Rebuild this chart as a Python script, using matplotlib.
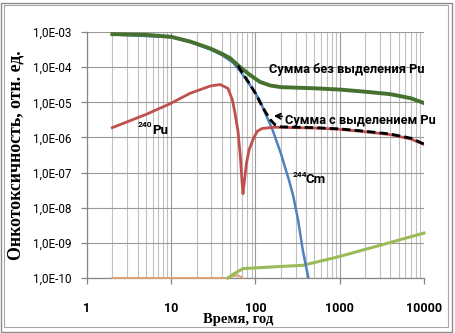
import matplotlib
matplotlib.use('Agg')
import matplotlib.pyplot as plt
import numpy as np
from matplotlib.patches import Rectangle
from matplotlib.ticker import FixedLocator, LogLocator, FuncFormatter, NullFormatter

# %%
# data (time in years, relative oncotoxicity)
t_sum_nopu = [2, 5, 10, 17, 29, 40, 50, 65, 86, 113, 150, 200, 500, 1000, 2000, 4000, 7000, 10000]
v_sum_nopu = [8.7e-4, 8.3e-4, 7.3e-4, 5.3e-4, 3.4e-4, 2.4e-4, 1.8e-4, 1.02e-4, 6.0e-5, 3.8e-5,
              3.0e-5, 2.7e-5, 2.5e-5, 2.3e-5, 2.0e-5, 1.7e-5, 1.3e-5, 9.5e-6]

t_cm244 = [2, 10, 17, 29, 40, 54, 65, 80, 100, 113, 130, 160, 200, 250, 280, 320, 365, 400, 425]
v_cm244 = [8.5e-4, 7.1e-4, 5.1e-4, 3.2e-4, 2.2e-4, 1.35e-4, 8.0e-5, 4.0e-5, 1.8e-5, 1.1e-5,
           5.0e-6, 1.6e-6, 3.5e-7, 6.0e-8, 2.2e-8, 4.5e-9, 6.0e-10, 2.0e-10, 1.0e-10]

t_pu240 = [2, 5, 9.6, 16.7, 29, 38, 47, 53, 57, 62, 66, 69, 71, 74, 78, 84, 94, 105, 120, 170,
           500, 1000, 2000, 4000, 7000, 10000]
v_pu240 = [1.9e-6, 4.5e-6, 9.0e-6, 1.8e-5, 2.9e-5, 3.2e-5, 2.5e-5, 1.2e-5, 5.0e-6, 1.5e-6, 3.0e-7,
           6.0e-8, 2.5e-8, 6.0e-8, 1.8e-7, 4.5e-7, 9.0e-7, 1.5e-6, 1.8e-6, 1.95e-6,
           1.85e-6, 1.7e-6, 1.45e-6, 1.2e-6, 9.0e-7, 6.3e-7]

t_sum_pu = [62, 65, 80, 100, 113, 130, 150, 170, 200, 500, 1000, 2000, 4000, 7000, 10000]
v_sum_pu = [1.1e-4, 9.0e-5, 4.2e-5, 1.8e-5, 1.0e-5, 5.5e-6, 3.2e-6, 2.3e-6, 2.0e-6, 1.9e-6,
            1.75e-6, 1.5e-6, 1.25e-6, 9.5e-7, 6.5e-7]

t_other1 = [47, 55, 71, 150, 366, 920, 3000, 10000]
v_other1 = [1.0e-10, 1.3e-10, 1.85e-10, 2.05e-10, 2.3e-10, 3.9e-10, 8.5e-10, 1.9e-9]

t_other2 = [2, 45, 52, 62, 67, 71]
v_other2 = [1.0e-10, 1.0e-10, 1.1e-10, 1.2e-10, 1.08e-10, 1.0e-10]

x_ticks = [1, 10, 100, 1000, 10000]
x_labels = ['1', '10', '100', '1000', '10000']
y_ticks = [1e-10, 1e-9, 1e-8, 1e-7, 1e-6, 1e-5, 1e-4, 1e-3]

label_nopu = 'Сумма без выделения Pu'
label_pu = 'Сумма с выделением Pu'
x_title = 'Время, год'
y_title = 'Онкотоксичность, отн. ед.'

# %%
sans = ['Roboto', 'DejaVu Sans']
serif = ['Liberation Serif', 'DejaVu Serif']

fig = plt.figure(figsize=(4.56, 3.33), dpi=100)
ax = fig.add_axes([87 / 456, 1 - 278 / 333, 337 / 456, 246 / 333])
ax.set_xscale('log')
ax.set_yscale('log')
ax.set_xlim(1, 10000)
ax.set_ylim(1e-10, 1e-3)

ax.plot(t_other2, v_other2, color='#E0A070', lw=1.4, clip_on=False, zorder=3)
ax.plot(t_other1, v_other1, color='#9BBB59', lw=2.2, clip_on=False, zorder=3)
ax.plot(t_cm244, v_cm244, color='#4F81BD', lw=1.8, zorder=3)
ax.plot(t_pu240, v_pu240, color='#C0504D', lw=2.0, zorder=4)
ax.plot(t_sum_nopu, v_sum_nopu, color='#46722F', lw=2.8, zorder=5)
ax.plot(t_sum_pu, v_sum_pu, color='black', lw=2.0, ls=(0, (3, 1.5)), zorder=6)

# grid: vertical major + minor, horizontal major only
ax.xaxis.set_major_locator(FixedLocator(x_ticks))
ax.xaxis.set_minor_locator(LogLocator(base=10, subs=np.arange(2, 10)))
ax.xaxis.set_minor_formatter(NullFormatter())
ax.yaxis.set_major_locator(FixedLocator(y_ticks))
ax.yaxis.set_minor_locator(FixedLocator([]))
ax.grid(which='major', axis='both', color='#9A9A9A', lw=0.8, zorder=0)
ax.grid(which='minor', axis='x', color='#C0C0C0', lw=0.8, zorder=0)
ax.set_axisbelow(True)

for s in ['top', 'right']:
    ax.spines[s].set_visible(False)
for s in ['left', 'bottom']:
    ax.spines[s].set_color('#868686')
    ax.spines[s].set_linewidth(0.9)

ax.tick_params(which='major', direction='out', length=4, color='#868686', width=0.9)
ax.tick_params(which='minor', length=0)
ax.tick_params(axis='y', pad=7, labelsize=8.5)
ax.tick_params(axis='x', pad=13, labelsize=9)

ax.set_xticklabels(x_labels)
ax.yaxis.set_major_formatter(FuncFormatter(lambda v, p: '1,0E-%02d' % round(-np.log10(v))))
for lab in ax.get_xticklabels():
    lab.set_family(sans)
    lab.set_fontweight('bold')
for lab in ax.get_yticklabels():
    lab.set_family(sans)

# annotations
ax.text(144, 8.3e-5, label_nopu, family=sans, fontweight='bold', fontsize=9.2,
        ha='left', va='center', zorder=7)
ax.annotate(label_pu, xy=(165, 4.1e-6), xytext=(223, 3.1e-6), family=sans,
            fontweight='bold', fontsize=9.2, ha='left', va='center', zorder=7,
            annotation_clip=False,
            arrowprops=dict(arrowstyle='->', color='black', lw=1.3, shrinkA=0, shrinkB=0))
ax.text(4.03, 10 ** -5.62, '240', family=sans, fontweight='bold', fontsize=6, ha='left', va='center')
ax.text(6.0, 10 ** -5.80, 'Pu', family=sans, fontweight='bold', fontsize=9.5, ha='left', va='center')
ax.text(278, 10 ** -7.05, '244', family=sans, fontweight='bold', fontsize=6, ha='left', va='center')
ax.text(395, 10 ** -7.20, 'Cm', family=sans, fontweight='bold', fontsize=9.5, ha='left', va='center')

fig.text(238 / 456, 1 - 320 / 333, x_title, family=serif, fontweight='bold', fontsize=10.5,
         ha='center', va='center')
fig.text(16 / 456, 1 - 155 / 333, y_title, family=serif, fontweight='bold', fontsize=12.8,
         rotation=90, ha='center', va='center')

# chart frame
fig.patches.append(Rectangle((1.5 / 456, 1.5 / 333), 451 / 456, 329 / 333, transform=fig.transFigure,
                             fill=False, ec='#8C8C8C', lw=1.0))
fig.patches.append(Rectangle((4.5 / 456, 6.5 / 333), 444 / 456, 322 / 333, transform=fig.transFigure,
                             fill=False, ec='#A8A8A8', lw=0.8))

fig.savefig('out.png', dpi=100)
